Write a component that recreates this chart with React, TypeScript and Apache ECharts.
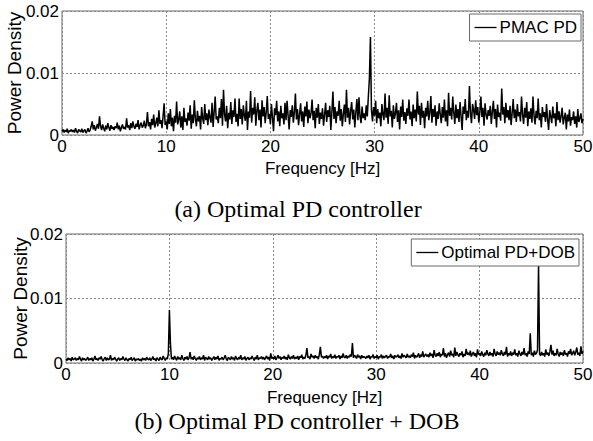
import React, { useEffect, useRef } from "react";
import * as echarts from "echarts";

// Frequency resolution of both spectra (Hz per sample), starting at 0 Hz
const FREQ_STEP = 0.1;
// Values are in units of 1e-4 (power density)
const VALUE_UNIT = 1e-4;

const xTicksHz = [0, 10, 20, 30, 40, 50];
const yTicks = [0, 0.01, 0.02];

const seriesNames = ["PMAC PD", "Optimal PD+DOB"];
const captions = ["(a) Optimal PD controller", "(b) Optimal PD controller + DOB"];

// (a) PMAC PD spectrum, 0.0 .. 50.0 Hz
const pmacPD = [
  6, 9, 4, 8, 5, 10, 3, 7, 6, 9,
  5, 8, 4, 11, 6, 3, 9, 7, 5, 10,
  4, 7, 9, 3, 6, 11, 5, 8, 14, 22,
  9, 16, 7, 12, 18, 10, 30, 14, 8, 17,
  11, 6, 15, 9, 19, 12, 7, 16, 10, 13,
  8, 14, 11, 20, 9, 15, 6, 12, 17, 10,
  13, 9, 27, 12, 16, 8, 19, 11, 22, 14,
  10, 18, 13, 24, 9, 16, 20, 12, 15, 23,
  11, 17, 37, 14, 21, 9, 26, 16, 33, 12,
  19, 28, 14, 40, 18, 24, 11, 30, 51, 16,
  22, 9, 35, 18, 42, 14, 28, 6, 31, 20,
  54, 17, 25, 38, 12, 30, 8, 44, 21, 27,
  15, 36, 23, 48, 10, 33, 19, 56, 26, 14,
  39, 22, 31, 9, 45, 27, 18, 50, 24, 35,
  16, 41, 28, 20, 52, 13, 37, 62, 25, 30,
  19, 44, 27, 58, 15, 73, 33, 22, 47, 11,
  36, 25, 53, 18, 40, 29, 59, 21, 34, 14,
  59, 26, 42, 17, 48, 31, 23, 55, 8, 38,
  28, 71, 20, 44, 33, 61, 15, 39, 52, 24,
  41, 12, 56, 30, 45, 19, 37, 63, 26, 34,
  18, 50, 28, 6, 43, 32, 55, 22, 38, 14,
  47, 27, 35, 17, 52, 24, 55, 31, 9, 40,
  29, 48, 20, 36, 67, 25, 42, 16, 33, 51,
  22, 38, 13, 46, 30, 54, 19, 41, 27, 35,
  57, 24, 39, 11, 44, 28, 50, 18, 36, 26,
  43, 15, 33, 52, 21, 40, 29, 47, 8, 37,
  70, 26, 45, 19, 38, 31, 55, 23, 42, 14,
  34, 49, 21, 73, 28, 44, 17, 39, 53, 25,
  41, 12, 36, 58, 24, 61, 30, 19, 46, 27,
  35, 24, 48, 30, 62, 91, 158, 40, 22, 45,
  31, 55, 19, 42, 27, 36, 14, 50, 33, 24,
  67, 28, 44, 18, 64, 30, 39, 12, 48, 26,
  35, 52, 21, 40, 9, 46, 29, 57, 23, 37,
  18, 43, 31, 57, 25, 38, 14, 49, 27, 41,
  22, 70, 33, 47, 16, 52, 28, 39, 11, 44,
  30, 55, 24, 36, 63, 20, 42, 29, 48, 15,
  38, 26, 51, 33, 19, 45, 28, 57, 22, 40,
  14, 68, 31, 44, 25, 62, 36, 18, 49, 27,
  42, 21, 53, 30, 8, 46, 34, 58, 24, 39,
  28, 79, 35, 19, 50, 41, 26, 56, 32, 45,
  20, 37, 62, 29, 44, 15, 51, 33, 25, 40,
  31, 47, 18, 38, 55, 26, 42, 12, 49, 29,
  36, 23, 75, 33, 45, 19, 52, 28, 40, 24,
  47, 16, 35, 58, 27, 41, 21, 50, 30, 37,
  22, 62, 33, 18, 44, 28, 53, 14, 38, 26,
  43, 20, 62, 31, 17, 39, 27, 59, 24, 35,
  12, 45, 29, 37, 21, 50, 25, 8, 40, 30,
  19, 46, 27, 35, 14, 53, 24, 38, 20, 31,
  44, 17, 28, 36, 9, 33, 22, 41, 15, 29,
  24, 38, 18, 30, 12, 42, 21, 27, 35, 19,
  26,
];

// (b) Optimal PD + DOB spectrum, 0.0 .. 50.0 Hz
const optimalPDDOB = [
  6, 4, 8, 5, 7, 3, 9, 5, 6, 8,
  4, 7, 5, 10, 6, 3, 8, 5, 7, 4,
  6, 9, 4, 7, 5, 8, 3, 6, 11, 5,
  7, 4, 8, 6, 10, 5, 3, 7, 9, 4,
  8, 5, 6, 12, 4, 7, 5, 9, 6, 3,
  6, 8, 4, 7, 5, 10, 6, 4, 8, 5,
  3, 7, 5, 9, 4, 6, 8, 3, 6, 5,
  7, 4, 6, 3, 8, 5, 7, 4, 9, 6,
  5, 8, 4, 6, 10, 5, 7, 3, 8, 6,
  4, 9, 6, 5, 11, 7, 4, 8, 6, 15,
  82, 30, 6, 9, 5, 11, 7, 4, 10, 6,
  8, 5, 12, 7, 4, 9, 6, 10, 5, 8,
  17, 6, 9, 5, 11, 7, 4, 8, 6, 10,
  5, 8, 6, 12, 4, 9, 7, 5, 10, 6,
  8, 4, 7, 10, 5, 9, 6, 11, 4, 7,
  6, 9, 5, 8, 12, 6, 4, 9, 7, 5,
  10, 6, 8, 4, 11, 7, 5, 9, 6, 12,
  5, 8, 6, 10, 4, 7, 9, 5, 8, 6,
  11, 7, 4, 9, 6, 12, 5, 8, 7, 10,
  6, 9, 5, 8, 11, 6, 9, 4, 15, 7,
  9, 6, 11, 5, 8, 12, 7, 10, 5, 9,
  7, 11, 6, 9, 5, 13, 8, 6, 10, 7,
  12, 6, 9, 7, 11, 5, 10, 8, 13, 6,
  9, 7, 12, 23, 8, 10, 6, 14, 9, 11,
  7, 12, 8, 10, 6, 13, 25, 9, 11, 7,
  10, 8, 12, 6, 11, 9, 14, 7, 10, 8,
  13, 7, 10, 9, 12, 6, 11, 8, 15, 9,
  8, 12, 7, 11, 9, 13, 10, 31, 8, 12,
  10, 7, 13, 9, 11, 6, 12, 8, 10, 9,
  7, 11, 8, 12, 6, 10, 9, 13, 7, 10,
  8, 12, 6, 10, 9, 13, 7, 11, 8, 10,
  12, 7, 10, 9, 14, 8, 11, 6, 12, 9,
  10, 13, 8, 11, 7, 15, 9, 12, 10, 8,
  14, 9, 11, 8, 13, 10, 16, 7, 12, 9,
  11, 15, 8, 13, 10, 18, 9, 12, 14, 10,
  13, 9, 16, 11, 14, 8, 20, 12, 10, 15,
  11, 17, 9, 14, 12, 23, 10, 15, 8, 13,
  16, 10, 19, 12, 14, 9, 24, 11, 17, 13,
  10, 15, 12, 18, 9, 14, 11, 22, 13, 16,
  12, 19, 10, 14, 17, 11, 15, 9, 21, 13,
  15, 11, 18, 13, 10, 16, 12, 20, 14, 11,
  17, 12, 15, 10, 22, 14, 11, 18, 13, 16,
  12, 20, 14, 11, 17, 13, 25, 10, 15, 12,
  18, 11, 16, 13, 21, 12, 15, 10, 19, 14,
  11, 17, 13, 23, 12, 15, 10, 18, 14, 46,
  12, 16, 10, 19, 13, 15, 20, 152, 14, 11,
  17, 12, 15, 10, 21, 13, 16, 11, 18, 28,
  13, 19, 11, 15, 12, 22, 14, 10, 17, 13,
  16, 11, 20, 13, 15, 10, 18, 14, 22, 12,
  15, 19, 12, 17, 24, 13, 16, 11, 26, 14,
  18,
];

const SANS = "'Liberation Sans', Arial, sans-serif";
const SERIF = "'Liberation Serif', 'Times New Roman', serif";

const toPairs = (vals: number[]) =>
  vals.map((v, i) => [Math.round(i * FREQ_STEP * 10) / 10, v * VALUE_UNIT]);

export default function App() {
  const ref = useRef<HTMLDivElement>(null);

  useEffect(() => {
    if (!ref.current) return;
    const chart = echarts.init(ref.current, null, { renderer: "svg" });

    const grids = [
      { left: 62, right: 10, top: 11, height: 124 },
      { left: 66, right: 10, top: 234, height: 129 },
    ];

    const xMin = xTicksHz[0];
    const xMax = xTicksHz[xTicksHz.length - 1];
    const xInt = xTicksHz[1] - xTicksHz[0];
    const yMin = yTicks[0];
    const yMax = yTicks[yTicks.length - 1];
    const yInt = yTicks[1] - yTicks[0];

    const splitLine = {
      show: true,
      lineStyle: { color: "#8a8a8a", width: 1, type: [2, 2] as any },
    };

    const legendCommon = {
      orient: "vertical",
      backgroundColor: "#fff",
      borderColor: "#6a6a6a",
      borderWidth: 1,
      borderRadius: 0,
      padding: [5, 4, 5, 5],
      itemWidth: 22,
      itemHeight: 1.3,
      icon: "rect",
      textStyle: { fontSize: 17, color: "#000", fontFamily: SANS, padding: [0, 0, 0, -2] },
    };

    const option: any = {
      animation: false,
      backgroundColor: "#ffffff",
      grid: grids.map((g) => ({
        ...g,
        show: true,
        borderColor: "#6a6a6a",
        borderWidth: 1,
        backgroundColor: "transparent",
        containLabel: false,
        outerBoundsMode: "none",
      })),
      xAxis: grids.map((_, i) => ({
        type: "value",
        gridIndex: i,
        min: xMin,
        max: xMax,
        interval: xInt,
        name: "Frequency [Hz]",
        nameLocation: "middle",
        nameGap: i === 0 ? 25 : 26,
        nameMoveOverlap: false,
        nameTextStyle: { fontSize: 17, color: "#000", fontFamily: SANS },
        axisLine: { show: false },
        axisTick: { show: false },
        axisLabel: { fontSize: 17, color: "#000", fontFamily: SANS, margin: 3 },
        splitLine,
      })),
      yAxis: grids.map((_, i) => ({
        type: "value",
        gridIndex: i,
        min: yMin,
        max: yMax,
        interval: yInt,
        name: "Power Density",
        nameLocation: "middle",
        nameGap: i === 0 ? 38 : 36,
        nameMoveOverlap: false,
        nameTextStyle: { fontSize: 19, color: "#000", fontFamily: SANS },
        axisLine: { show: false },
        axisTick: { show: false },
        axisLabel: {
          fontSize: 17,
          color: "#000",
          fontFamily: SANS,
          margin: 3,
          formatter: (v: number) => (v === 0 ? "0" : v.toFixed(2)),
        },
        splitLine,
      })),
      legend: [
        { ...legendCommon, data: [seriesNames[0]], right: 12, top: 14 },
        { ...legendCommon, data: [seriesNames[1]], right: 14, top: 239 },
      ],
      series: [
        {
          type: "line",
          name: seriesNames[0],
          xAxisIndex: 0,
          yAxisIndex: 0,
          data: toPairs(pmacPD),
          symbol: "none",
          lineStyle: { color: "#000", width: 1.5 },
          itemStyle: { color: "#000" },
        },
        {
          type: "line",
          name: seriesNames[1],
          xAxisIndex: 1,
          yAxisIndex: 1,
          data: toPairs(optimalPDDOB),
          symbol: "none",
          lineStyle: { color: "#000", width: 1.5 },
          itemStyle: { color: "#000" },
        },
      ],
      graphic: [
        {
          type: "text",
          x: 298,
          y: 209,
          style: {
            text: captions[0],
            fontSize: 24,
            fontFamily: SERIF,
            fill: "#000",
            align: "center",
            verticalAlign: "middle",
          },
        },
        {
          type: "text",
          x: 297,
          y: 421,
          style: {
            text: captions[1],
            fontSize: 24,
            fontFamily: SERIF,
            fill: "#000",
            align: "center",
            verticalAlign: "middle",
          },
        },
      ],
    };

    chart.setOption(option);
    return () => chart.dispose();
  }, []);

  return (
    <div
      ref={ref}
      style={{ position: "fixed", left: 0, top: 0, width: 593, height: 441 }}
    />
  );
}
